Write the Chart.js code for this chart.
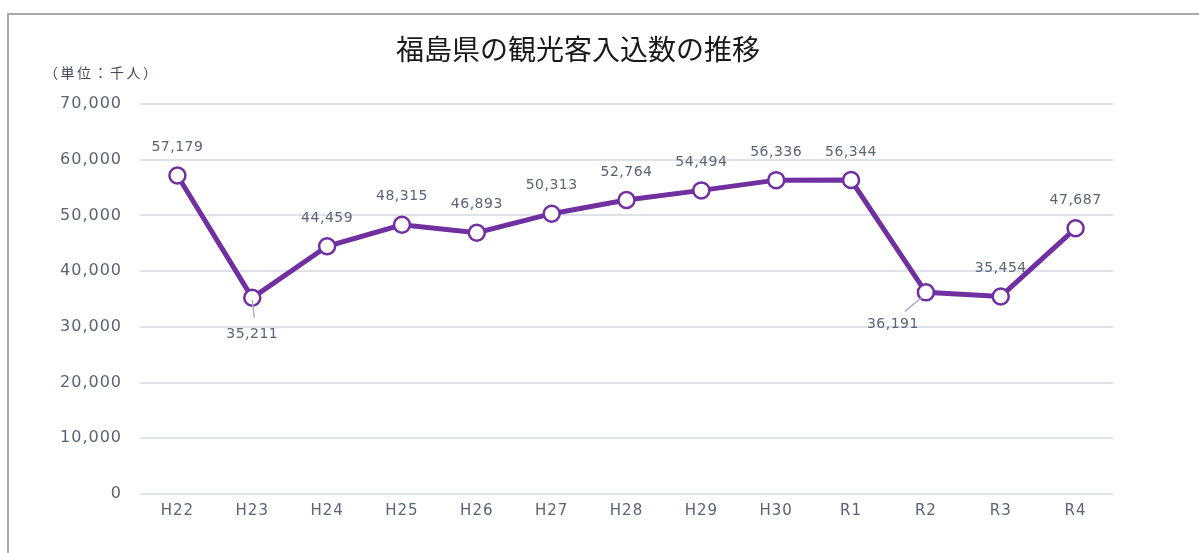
<!DOCTYPE html>
<html lang="ja">
<head>
<meta charset="utf-8">
<script src="https://cdn.jsdelivr.net/npm/chart.js@4.4.1/dist/chart.umd.min.js"></script>
<style>
  html, body { margin: 0; padding: 0; background: #fff; overflow: hidden; }
  body { width: 1199px; height: 553px; position: relative; }
  #frame { position: absolute; left: 7px; top: 13px; width: 1260px; height: 600px; border: 2px solid #a9a9a9; box-sizing: border-box; }
  #wrap { position: absolute; left: 8px; top: 14px; width: 1140px; height: 539px; }
  #title { position: absolute; left: 278px; width: 600px; top: 30px; text-align: center; font-family: "Noto Sans CJK JP", sans-serif; font-size: 28px; line-height: 36px; color: #1a1a1a; }
  #unit { position: absolute; left: 44px; top: 62px; font-family: "Noto Sans CJK JP", sans-serif; font-size: 14px; line-height: 20px; color: #404858; letter-spacing: 2.5px; }
</style>
</head>
<body>
<div id="frame"></div>
<div id="wrap"><canvas id="c"></canvas></div>
<div id="title"></div>
<div id="unit">（単位：千人）</div>
<script>
const categories = ["H22","H23","H24","H25","H26","H27","H28","H29","H30","R1","R2","R3","R4"];
const visitors = [57179, 35211, 44459, 48315, 46893, 50313, 52764, 54494, 56336, 56344, 36191, 35454, 47687];
const yTicks = [0, 10000, 20000, 30000, 40000, 50000, 60000, 70000];
const chartTitle = "福島県の観光客入込数の推移";
document.getElementById('title').textContent = chartTitle;

const FONT = '"DejaVu Sans", sans-serif';
const TEXT = '#5b6374';
const PURPLE = '#7030a0';

// label placement: 'above' default; special leader-line placements
const labelPlacement = { 1: 'below', 10: 'belowLeft' };

const spacing = {
  id: 'spacing',
  beforeDraw(chart) { chart.ctx.letterSpacing = '1px'; }
};

const dataLabels = {
  id: 'dataLabels',
  afterDatasetsDraw(chart) {
    const ctx = chart.ctx;
    const meta = chart.getDatasetMeta(0);
    ctx.save();
    ctx.letterSpacing = '0.5px';
    ctx.font = '14px ' + FONT;
    ctx.fillStyle = TEXT;
    ctx.textAlign = 'center';
    ctx.textBaseline = 'middle';
    meta.data.forEach((pt, i) => {
      const v = chart.data.datasets[0].data[i];
      const txt = v.toLocaleString('en-US');
      const p = labelPlacement[i] || 'above';
      if (p === 'above') {
        ctx.fillText(txt, pt.x, pt.y - 28);
      } else if (p === 'below') {
        ctx.strokeStyle = '#aab4c4';
        ctx.lineWidth = 1.5;
        ctx.beginPath();
        ctx.moveTo(pt.x, pt.y + 2);
        ctx.lineTo(pt.x + 2, pt.y + 20);
        ctx.stroke();
        ctx.fillText(txt, pt.x, pt.y + 37);
      } else if (p === 'belowLeft') {
        ctx.strokeStyle = '#aab4c4';
        ctx.lineWidth = 1.5;
        ctx.beginPath();
        ctx.moveTo(pt.x - 4, pt.y + 5);
        ctx.lineTo(pt.x - 21, pt.y + 19);
        ctx.stroke();
        ctx.fillText(txt, pt.x - 33, pt.y + 32);
      }
    });
    ctx.restore();
  }
};

new Chart(document.getElementById('c'), {
  type: 'line',
  data: {
    labels: categories,
    datasets: [{
      data: visitors,
      borderColor: PURPLE,
      borderWidth: 5,
      backgroundColor: '#ffffff',
      pointBackgroundColor: '#ffffff',
      pointBorderColor: PURPLE,
      pointBorderWidth: 2.5,
      pointRadius: 8,
      tension: 0,
      clip: false
    }]
  },
  options: {
    responsive: true,
    maintainAspectRatio: false,
    animation: false,
    layout: { padding: { left: 0, right: 35, top: 90, bottom: 0 } },
    plugins: {
      legend: { display: false },
      tooltip: { enabled: false },
      title: { display: false }
    },
    scales: {
      x: {
        offset: true,
        grid: { display: false, drawTicks: false },
        border: { display: false },
        ticks: { color: TEXT, font: { family: FONT, size: 15 }, padding: 8 },
        afterFit(s) { s.height = 59; }
      },
      y: {
        min: 0,
        max: 70000,
        afterBuildTicks(s) { s.ticks = yTicks.map(v => ({ value: v })); },
        grid: { color: '#dfe2e9', lineWidth: 2, drawTicks: false },
        border: { display: false },
        ticks: {
          color: TEXT,
          font: { family: FONT, size: 16 },
          padding: 18,
          callback: v => v.toLocaleString('en-US')
        },
        afterFit(s) { s.width = 132; }
      }
    }
  },
  plugins: [spacing, dataLabels]
});
</script>
</body>
</html>
